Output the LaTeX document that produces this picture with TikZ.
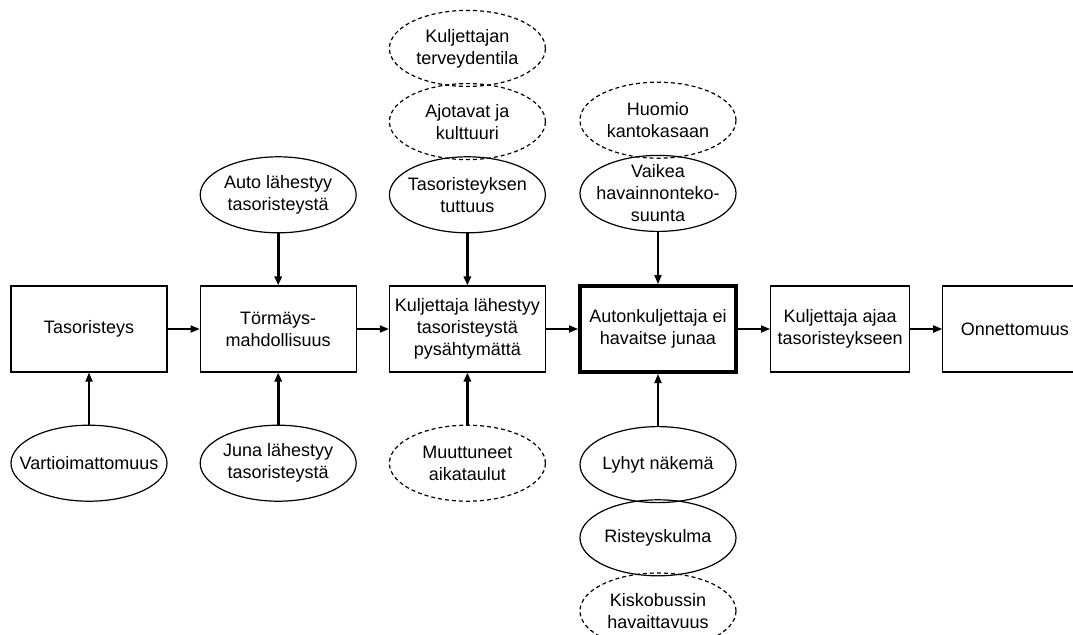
\documentclass[tikz,border=0pt]{standalone}
\usepackage{fontspec}
\setmainfont{Liberation Sans}
\usetikzlibrary{positioning,arrows.meta,shapes.geometric}
\tikzset{
  node-box/.style={draw,line width=0.6pt,minimum height=43pt,minimum width=78pt,
    align=center,inner sep=2pt},
  node-key/.style={line width=2pt},
  node-oval/.style={draw,ellipse,line width=0.6pt,minimum width=78pt,
    minimum height=38pt,inner sep=-8pt,align=center},
  node-oval-dashed/.style={node-oval,dash pattern=on 2pt off 1.5pt},
  arrow/.style={-{Triangle[length=4.5pt,width=3.6pt]},line width=0.6pt},
  arrow-thick/.style={arrow,line width=1.5pt},
}

\begin{document}
\begin{tikzpicture}[x=0.5pt,y=-0.5pt,node distance=26pt and 16pt,
    font=\fontsize{9}{11}\selectfont]
  \useasboundingbox (0,0) rectangle (1073,634);
  % 主链
  \node[node-box] (tas) at (89,329) {Tasoristeys};
  \node[node-box,right=of tas] (tor) {Törmäys-\\mahdollisuus};
  \node[node-box,right=of tor] (kul) {Kuljettaja lähestyy\\tasoristeystä\\pysähtymättä};
  \node[node-box,node-key,right=of kul] (aut) {Autonkuljettaja ei\\havaitse junaa};
  \node[node-box,minimum width=69.5pt,right=of aut] (aja) {Kuljettaja ajaa\\tasoristeykseen};
  \node[node-box,minimum width=72pt,right=of aja] (onn) {Onnettomuus};
  % 上方因素
  \node[node-oval,above=of tor] (auto) {Auto lähestyy\\tasoristeystä};
  \node[node-oval,above=of kul] (tut) {Tasoristeyksen\\tuttuus};
  \node[node-oval-dashed,above=-2pt of tut] (ajo) {Ajotavat ja\\kulttuuri};
  \node[node-oval-dashed,above=-2pt of ajo] (ter) {Kuljettajan\\terveydentila};
  \node[node-oval,above=of aut] (vai) {Vaikea\\havainnonteko-\\suunta};
  \node[node-oval-dashed,above=-2pt of vai] (huo) {Huomio\\kantokasaan};
  % 下方因素
  \node[node-oval,below=of tas] (var) {Vartioimattomuus};
  \node[node-oval,below=of tor] (juna) {Juna lähestyy\\tasoristeystä};
  \node[node-oval-dashed,below=of kul] (muu) {Muuttuneet\\aikataulut};
  \node[node-oval,below=of aut] (lyh) {Lyhyt näkemä};
  \node[node-oval,below=-2pt of lyh] (ris) {Risteyskulma};
  \node[node-oval-dashed,below=-2pt of ris] (kis) {Kiskobussin\\havaittavuus};
  % 箭头
  \draw[arrow] (tas) -- (tor);
  \draw[arrow] (tor) -- (kul);
  \draw[arrow] (kul) -- (aut);
  \draw[arrow] (aut) -- (aja);
  \draw[arrow] (aja) -- (onn);
  \draw[arrow-thick] (auto) -- (tor);
  \draw[arrow-thick] (juna) -- (tor);
  \draw[arrow-thick] (tut) -- (kul);
  \draw[arrow-thick] (muu) -- (kul);
  \draw[arrow] (var) -- (tas);
  \draw[arrow] (vai) -- (aut);
  \draw[arrow] (lyh) -- (aut);
\end{tikzpicture}
\end{document}
